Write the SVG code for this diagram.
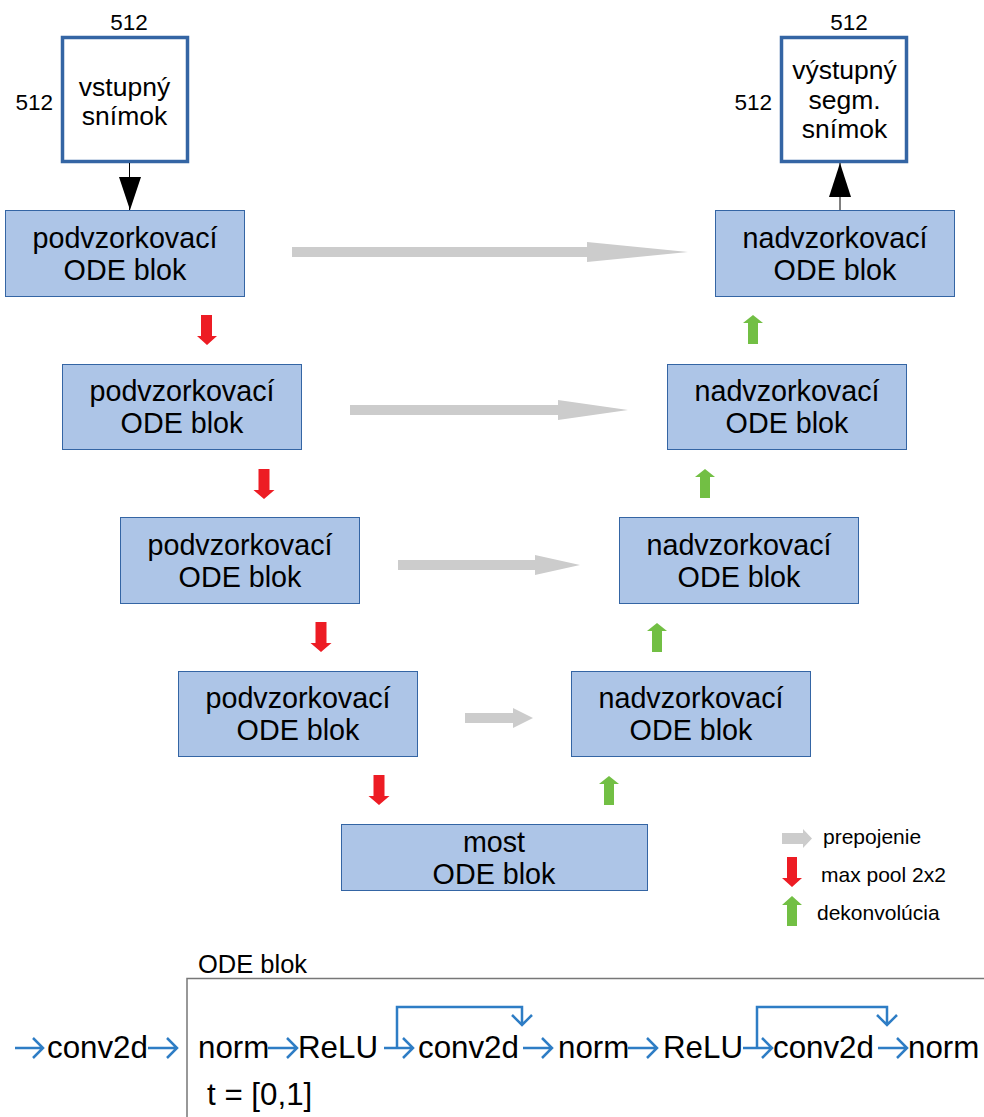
<svg xmlns="http://www.w3.org/2000/svg" width="984" height="1117" viewBox="0 0 984 1117">
<defs>
<style>
text{font-family:"Liberation Sans",Arial,sans-serif;fill:#000}
.blk{fill:#adc5e7;stroke:#3465a4;stroke-width:1}
.img{fill:#fff;stroke:#3465a4;stroke-width:3.5}
.bt{font-size:28.7px;text-anchor:middle}
.it{font-size:26.5px;text-anchor:middle}
.dim{font-size:22.5px}
.lg{font-size:21px}
.ode{font-size:31.3px}
.gray{fill:#cccccc}
.red{fill:#ed1c24}
.green{fill:#72bf44}
.bl{fill:none;stroke:#2e7dc5;stroke-width:2.5}
</style>
</defs>
<rect width="984" height="1117" fill="#fff"/>

<g id="input">
<rect class="img" x="62.5" y="37.5" width="125" height="124"/>
<text class="it" x="124.5" y="96">vstupný</text>
<text class="it" x="124.5" y="125">snímok</text>
<text class="dim" x="129" y="30" text-anchor="middle">512</text>
<text class="dim" x="53" y="110" text-anchor="end">512</text>
</g>
<g id="output">
<rect class="img" x="781.5" y="37.5" width="125" height="124"/>
<text class="it" x="844.5" y="79">výstupný</text>
<text class="it" x="844.5" y="109">segm.</text>
<text class="it" x="844.5" y="138">snímok</text>
<text class="dim" x="849" y="30" text-anchor="middle">512</text>
<text class="dim" x="772" y="110" text-anchor="end">512</text>
</g>

<g id="down1"><rect class="blk" x="5.5" y="210.5" width="239" height="86"/><text class="bt" x="125" y="248">podvzorkovací</text><text class="bt" x="125" y="280">ODE blok</text></g>
<g id="down2"><rect class="blk" x="62.5" y="364.5" width="239" height="85"/><text class="bt" x="182" y="401">podvzorkovací</text><text class="bt" x="182" y="433">ODE blok</text></g>
<g id="down3"><rect class="blk" x="120.5" y="517.5" width="239" height="86"/><text class="bt" x="240" y="555">podvzorkovací</text><text class="bt" x="240" y="587">ODE blok</text></g>
<g id="down4"><rect class="blk" x="178.5" y="671.5" width="239" height="85"/><text class="bt" x="298" y="708">podvzorkovací</text><text class="bt" x="298" y="740">ODE blok</text></g>
<g id="bridge"><rect class="blk" x="341.5" y="824.5" width="306" height="66"/><text class="bt" x="494" y="852">most</text><text class="bt" x="494" y="884">ODE blok</text></g>
<g id="up1"><rect class="blk" x="715.5" y="210.5" width="239" height="86"/><text class="bt" x="835" y="248">nadvzorkovací</text><text class="bt" x="835" y="280">ODE blok</text></g>
<g id="up2"><rect class="blk" x="667.5" y="364.5" width="239" height="85"/><text class="bt" x="787" y="401">nadvzorkovací</text><text class="bt" x="787" y="433">ODE blok</text></g>
<g id="up3"><rect class="blk" x="619.5" y="517.5" width="239" height="86"/><text class="bt" x="739" y="555">nadvzorkovací</text><text class="bt" x="739" y="587">ODE blok</text></g>
<g id="up4"><rect class="blk" x="571.5" y="671.5" width="239" height="85"/><text class="bt" x="691" y="708">nadvzorkovací</text><text class="bt" x="691" y="740">ODE blok</text></g>

<g id="connectors">
<line x1="129.5" y1="163" x2="129.5" y2="210" stroke="#000" stroke-width="1"/>
<path d="M119,177L141,177L130,210z" fill="#000"/>
<line x1="840" y1="163" x2="840" y2="210" stroke="#000" stroke-width="1"/>
<path d="M829,197L851,197L840,163z" fill="#000"/>

<path class="gray" d="M292,247H587V242L688,252L587,262V257H292z"/>
<path class="gray" d="M350,405H558V400L628,410L558,420V415H350z"/>
<path class="gray" d="M398,560H535V555L580,565L535,575V570H398z"/>
<path class="gray" d="M465,713H513V708L533,718L513,728V723H465z"/>

<path class="red" d="M201,315H212V336H217L207,345L197,336H201z"/>
<path class="red" d="M258.5,469H269.5V490H274.5L264,499L253.5,490H258.5z"/>
<path class="red" d="M315.5,622H326.5V643H331.5L321,652L310.5,643H315.5z"/>
<path class="red" d="M373.5,775H384.5V796H389.5L379,805L368.5,796H373.5z"/>

<path class="green" d="M748,344V323H743L753,315L763,323H758V344z"/>
<path class="green" d="M700,498V477H695L705,469L715,477H710V498z"/>
<path class="green" d="M652,652V631H647L657,623L667,631H662V652z"/>
<path class="green" d="M604,805V784H599L609,776L619,784H614V805z"/>
</g>

<g id="legend">
<path class="gray" d="M782,833H803V829L812,838.5L803,848V844H782z"/>
<text class="lg" x="823" y="844">prepojenie</text>
<path class="red" d="M787,857H797V878H802L792,887L782,878H787z"/>
<text class="lg" x="821" y="882">max pool 2x2</text>
<path class="green" d="M787,926V905H782L792,896L802,905H797V926z"/>
<text class="lg" x="817" y="920">dekonvolúcia</text>
</g>

<g id="odeblok">
<text x="198" y="973" font-size="25.5">ODE blok</text>
<path d="M187,1117V978.5H984" fill="none" stroke="#777" stroke-width="1.5"/>
<text class="ode" x="47" y="1058">conv2d</text>
<text class="ode" x="198" y="1058">norm</text>
<text class="ode" x="298" y="1058">ReLU</text>
<text class="ode" x="418" y="1058">conv2d</text>
<text class="ode" x="558" y="1058">norm</text>
<text class="ode" x="663" y="1058">ReLU</text>
<text class="ode" x="773" y="1058">conv2d</text>
<text class="ode" x="908" y="1058">norm</text>
<text class="ode" x="207" y="1105">t = [0,1]</text>
<g class="bl">
<path d="M15,1048H43M33,1038L43,1048L33,1058"/>
<path d="M148,1048H177M167,1038L177,1048L167,1058"/>
<path d="M268,1048H297M287,1038L297,1048L287,1058"/>
<path d="M384,1048H413M403,1038L413,1048L403,1058"/>
<path d="M397,1048V1007H522V1025M512,1015L522,1025L532,1015"/>
<path d="M523,1048H552M542,1038L552,1048L542,1058"/>
<path d="M628,1048H657M647,1038L657,1048L647,1058"/>
<path d="M743,1048H772M762,1038L772,1048L762,1058"/>
<path d="M757,1048V1007H887V1025M877,1015L887,1025L897,1015"/>
<path d="M878,1048H907M897,1038L907,1048L897,1058"/>
</g>
</g>
</svg>
